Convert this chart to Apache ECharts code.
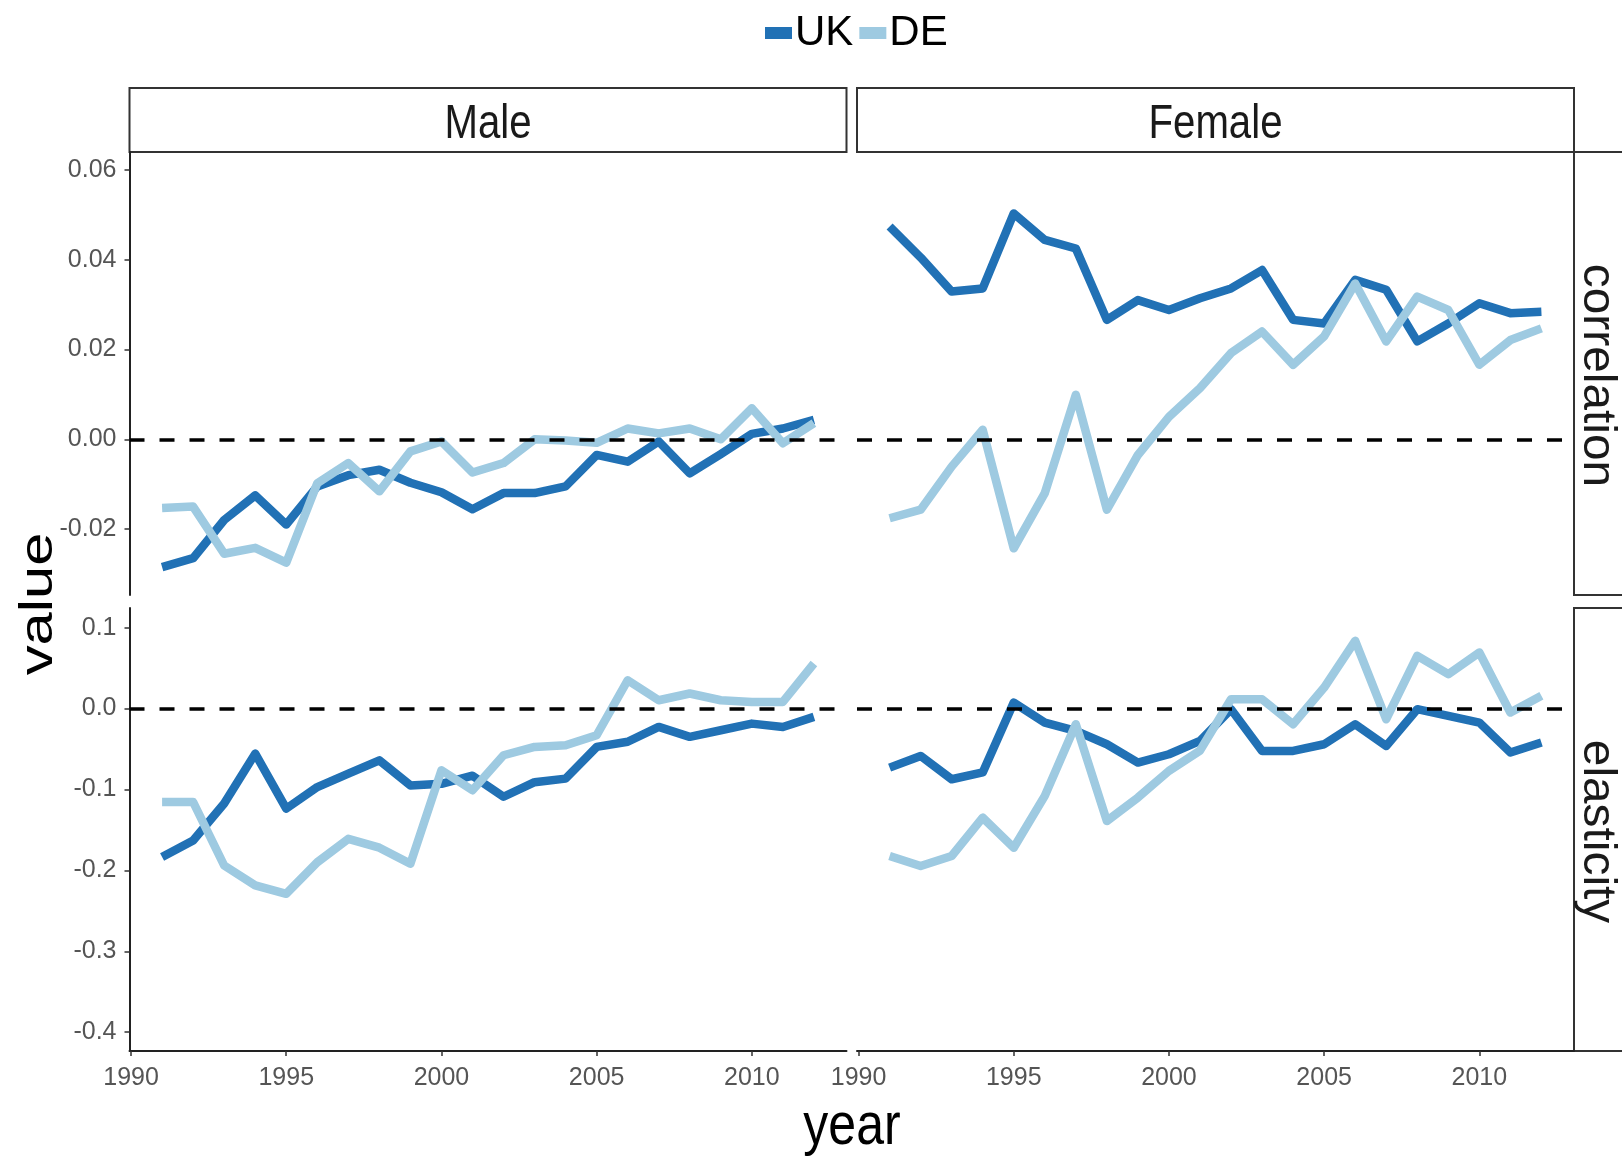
<!DOCTYPE html>
<html>
<head>
<meta charset="utf-8">
<title>UK vs DE: correlation and elasticity by gender</title>
<script src="https://cdn.jsdelivr.net/npm/echarts@6/dist/echarts.min.js"></script>
<style>
  html, body { margin: 0; padding: 0; background: #fff; }
  #chart { width: 1622px; height: 1157px; }
</style>
</head>
<body>
<div id="chart"></div>
<script>
// Survey years shared by every panel
const years = [1991, 1992, 1993, 1994, 1995, 1996, 1997, 1998, 1999, 2000, 2001,
               2002, 2003, 2004, 2005, 2006, 2007, 2008, 2009, 2010, 2011, 2012];

// Correlation, male
const maleCorrUK = [-0.0285, -0.0265, -0.018, -0.0125, -0.019, -0.0105, -0.008, -0.0068, -0.0097, -0.0118, -0.0156,
                    -0.012, -0.012, -0.0105, -0.0035, -0.005, -0.0005, -0.0076, -0.0033, 0.0012, 0.0024, 0.0043];
const maleCorrDE = [-0.0153, -0.015, -0.0255, -0.0242, -0.0275, -0.0098, -0.0053, -0.0116, -0.0027, -0.0005, -0.0074,
                    -0.0053, 0.0, -0.0003, -0.0008, 0.0024, 0.0013, 0.0024, 0.0, 0.0069, -0.0009, 0.0036];

// Correlation, female
const femaleCorrUK = [0.0474, 0.0405, 0.0329, 0.0336, 0.0503, 0.0444, 0.0425, 0.0266, 0.031, 0.0288, 0.0314,
                      0.0336, 0.0377, 0.0266, 0.0258, 0.0355, 0.0333, 0.0218, 0.0258, 0.0303, 0.0281, 0.0284];
const femaleCorrDE = [-0.0176, -0.0157, -0.0061, 0.0021, -0.0243, -0.012, 0.0099, -0.0157, -0.0035, 0.005, 0.0114,
                      0.0192, 0.024, 0.0166, 0.0229, 0.0347, 0.0218, 0.0318, 0.0288, 0.0166, 0.0221, 0.0247];

// Elasticity, male
const maleElastUK = [-0.1835, -0.163, -0.1175, -0.0557, -0.1237, -0.097, -0.0804, -0.064, -0.095, -0.093, -0.083,
                     -0.109, -0.091, -0.0866, -0.0474, -0.041, -0.0227, -0.035, -0.0268, -0.0186, -0.0227, -0.0103];
const maleElastDE = [-0.1155, -0.1155, -0.194, -0.2186, -0.229, -0.19, -0.161, -0.172, -0.1918, -0.0763, -0.101,
                     -0.0577, -0.0474, -0.0454, -0.033, 0.035, 0.0103, 0.0186, 0.0103, 0.0082, 0.0082, 0.0557];

// Elasticity, female
const femaleElastUK = [-0.073, -0.0586, -0.0874, -0.079, 0.0074, -0.0173, -0.0276, -0.0441, -0.0668, -0.0565, -0.04,
                       -0.0008, -0.0524, -0.0524, -0.0441, -0.0194, -0.0462, -0.0008, -0.009, -0.0173, -0.0544, -0.042];
const femaleElastDE = [-0.1823, -0.1946, -0.1823, -0.1348, -0.172, -0.108, -0.0194, -0.139, -0.11, -0.077, -0.052,
                       0.0115, 0.0115, -0.0194, 0.026, 0.0837, -0.0132, 0.0652, 0.0425, 0.0693, -0.005, 0.0157];

// Tick labels
const yearTicks = [1990, 1995, 2000, 2005, 2010];
const corrTicks = [-0.02, 0.00, 0.02, 0.04, 0.06];
const elastTicks = [-0.4, -0.3, -0.2, -0.1, 0.0, 0.1];

const facetCols = ['Male', 'Female'];
const facetRows = ['correlation', 'elasticity'];
const seriesNames = ['UK', 'DE'];

const colorUK = '#2171b5';
const colorDE = '#9ecae1';
const sans = "'Liberation Sans', Arial, sans-serif";

// Panel geometry
const colLeft = [129.5, 857];
const panelW = 717;
const rowTop = [152, 608];
const panelH = 443;

const xMin = 1989.95, xMax = 2013.05;
const yRange = [[-0.0347, 0.064], [-0.4233, 0.1243]];

const panels = [
  { row: 0, col: 0, uk: maleCorrUK, de: maleCorrDE },
  { row: 0, col: 1, uk: femaleCorrUK, de: femaleCorrDE },
  { row: 1, col: 0, uk: maleElastUK, de: maleElastDE },
  { row: 1, col: 1, uk: femaleElastUK, de: femaleElastDE }
];

const pairs = arr => years.map((y, i) => [y, arr[i]]);

const grid = [], xAxis = [], yAxis = [], series = [];

panels.forEach((p, i) => {
  grid.push({ left: colLeft[p.col], top: rowTop[p.row], width: panelW, height: panelH });

  const showX = p.row === 1;
  xAxis.push({
    gridIndex: i, type: 'value', min: xMin, max: xMax, show: showX,
    splitLine: { show: false },
    axisLine: { show: true, onZero: false, lineStyle: { color: '#222', width: 2 } },
    axisTick: { show: true, length: 5, customValues: yearTicks, lineStyle: { color: '#333', width: 1.5 } },
    axisLabel: { customValues: yearTicks, fontFamily: sans, fontSize: 25, color: '#555', margin: 15,
                 formatter: v => String(v) }
  });

  const showY = p.col === 0;
  const ticks = p.row === 0 ? corrTicks : elastTicks;
  const dec = p.row === 0 ? 2 : 1;
  yAxis.push({
    gridIndex: i, type: 'value', min: yRange[p.row][0], max: yRange[p.row][1], show: showY,
    splitLine: { show: false },
    axisLine: { show: true, onZero: false, lineStyle: { color: '#222', width: 2 } },
    axisTick: { show: true, length: 5, customValues: ticks, lineStyle: { color: '#333', width: 1.5 } },
    axisLabel: { customValues: ticks, fontFamily: sans, fontSize: 25, color: '#555', margin: 13,
                 formatter: v => v.toFixed(dec) }
  });

  [[p.uk, colorUK, 'UK', 2], [p.de, colorDE, 'DE', 3]].forEach(([arr, color, name, z]) => {
    series.push({
      type: 'line', name, xAxisIndex: i, yAxisIndex: i, data: pairs(arr), z,
      showSymbol: false, symbol: 'none', animation: false, silent: true,
      lineStyle: { color, width: 8.5, cap: 'butt', join: 'round' },
      itemStyle: { color }
    });
  });

  // horizontal reference line at zero
  series.push({
    type: 'line', name: 'zero', xAxisIndex: i, yAxisIndex: i, data: [], z: 4, animation: false,
    markLine: {
      silent: true, symbol: 'none', animation: false, label: { show: false },
      lineStyle: { color: '#000', width: 3.5, type: [15, 15] },
      data: [{ yAxis: 0 }]
    }
  });
});

// Facet strips and axis titles
const graphic = [];
facetCols.forEach((label, c) => {
  graphic.push({
    type: 'rect', silent: true,
    shape: { x: colLeft[c], y: 88, width: panelW, height: 64 },
    style: { fill: '#fff', stroke: '#333', lineWidth: 2 }
  });
  graphic.push({
    type: 'text', silent: true, x: colLeft[c] + panelW / 2, y: 124, scaleX: 0.82,
    style: { text: label, font: '49px ' + sans, fill: '#1a1a1a', align: 'center', verticalAlign: 'middle' }
  });
});
facetRows.forEach((label, r) => {
  graphic.push({
    type: 'rect', silent: true,
    shape: { x: colLeft[1] + panelW, y: rowTop[r], width: 80, height: panelH },
    style: { fill: '#fff', stroke: '#333', lineWidth: 2 }
  });
  graphic.push({
    type: 'text', silent: true, x: 1597, y: rowTop[r] + panelH / 2 + 2, rotation: -Math.PI / 2, scaleX: 1.04,
    style: { text: label, font: '46px ' + sans, fill: '#1a1a1a', align: 'center', verticalAlign: 'middle' }
  });
});
graphic.push({
  type: 'text', silent: true, x: 39, y: 604, rotation: Math.PI / 2, scaleX: 1.27,
  style: { text: 'value', font: '47px ' + sans, fill: '#000', align: 'center', verticalAlign: 'middle' }
});
graphic.push({
  type: 'text', silent: true, x: 852, y: 1128, scaleY: 1.18,
  style: { text: 'year', font: '50px ' + sans, fill: '#000', align: 'center', verticalAlign: 'middle' }
});

const chart = echarts.init(document.getElementById('chart'), null, { renderer: 'canvas' });
chart.setOption({
  backgroundColor: '#fff',
  animation: false,
  legend: {
    data: seriesNames, left: 760, top: 5, icon: 'rect', itemWidth: 27, itemHeight: 12, itemGap: 6,
    textStyle: { fontFamily: sans, fontSize: 42, color: '#000', lineHeight: 46, padding: [0, 0, 0, -2] }
  },
  grid, xAxis, yAxis, series, graphic
});
</script>
</body>
</html>
